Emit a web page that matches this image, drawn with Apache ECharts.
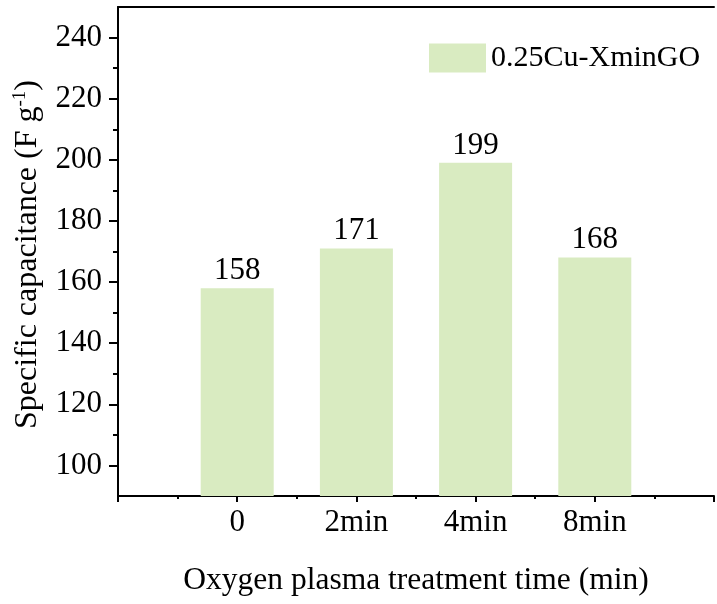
<!DOCTYPE html>
<html>
<head>
<meta charset="utf-8">
<script src="https://cdn.jsdelivr.net/npm/echarts@6/dist/echarts.min.js"></script>
<style>
  html, body { margin: 0; padding: 0; background: #fff; }
  #main { width: 717px; height: 604px; }
</style>
</head>
<body>
<div id="main"></div>
<script>
// x positions 1..4 hold the categories, 0 and 5 are the empty ends
var categories = ['0', '2min', '4min', '8min'];
var capacitance = [158, 171, 199, 168];
var yLabelTicks = [100, 120, 140, 160, 180, 200, 220, 240];
var yMinorTicks = [110, 130, 150, 170, 190, 210, 230];

var FONT = "'Liberation Serif', 'Times New Roman', serif";
var BAR_COLOR = '#d9ebc1';

var init_chart = function() {
    var myChart = echarts.init(document.getElementById('main'));

    var barData = capacitance.map(function(v, i) { return [i + 1, v]; });

    var option = {
        animation: false,
        backgroundColor: '#fff',
        textStyle: { fontFamily: FONT, color: '#000' },
        grid: { left: 118, top: 7, width: 608, bottom: 108 },
        legend: {
            left: 429,
            top: 43,
            padding: 0,
            icon: 'rect',
            itemWidth: 57,
            itemHeight: 29,
            textStyle: { fontFamily: FONT, fontSize: 30, color: '#000' },
            data: ['0.25Cu-XminGO']
        },
        xAxis: [{
            type: 'value',
            min: 0,
            max: 5,
            interval: 1,
            position: 'bottom',
            splitLine: { show: false },
            axisLine: { lineStyle: { color: '#000', width: 2 } },
            axisTick: { show: true, length: 6, lineStyle: { color: '#000', width: 2 } },
            minorTick: { show: true, splitNumber: 2, length: 3, lineStyle: { color: '#000', width: 2 } },
            axisLabel: {
                fontFamily: FONT, fontSize: 31, color: '#000', margin: 11,
                formatter: function(v) {
                    return (v >= 1 && v <= categories.length && v % 1 === 0) ? categories[v - 1] : '';
                }
            },
            name: 'Oxygen plasma treatment time (min)',
            nameLocation: 'middle',
            nameGap: 69,
            nameTextStyle: { fontFamily: FONT, fontSize: 31.5, color: '#000' }
        }, {
            type: 'value',
            min: 0,
            max: 5,
            position: 'top',
            splitLine: { show: false },
            axisLine: { show: true, lineStyle: { color: '#000', width: 2 } },
            axisTick: { show: false },
            axisLabel: { show: false }
        }],
        yAxis: [{
            type: 'value',
            min: 90,
            max: 250,
            position: 'left',
            splitLine: { show: false },
            axisLine: { show: true, lineStyle: { color: '#000', width: 2 } },
            axisTick: { show: true, length: 9, customValues: yLabelTicks, lineStyle: { color: '#000', width: 2 } },
            axisLabel: { fontFamily: FONT, fontSize: 31, color: '#000', margin: 16, customValues: yLabelTicks },
            name: '{n|Specific capacitance (F g}{s|-1}{n|)}',
            nameLocation: 'middle',
            nameRotate: 90,
            nameGap: 73,
            nameTextStyle: {
                padding: [0, 6, 0, 0],
                rich: {
                    n: { fontFamily: FONT, fontSize: 32, color: '#000' },
                    s: { fontFamily: FONT, fontSize: 19, color: '#000', verticalAlign: 'top', padding: [0, 0, 15, 0] }
                }
            }
        }, {
            type: 'value',
            min: 90,
            max: 250,
            position: 'left',
            splitLine: { show: false },
            axisLine: { show: false },
            axisTick: { show: true, length: 5, customValues: yMinorTicks, lineStyle: { color: '#000', width: 2 } },
            axisLabel: { show: false }
        }],
        series: [{
            name: '0.25Cu-XminGO',
            type: 'bar',
            xAxisIndex: 0,
            yAxisIndex: 0,
            barWidth: 73,
            data: barData,
            itemStyle: { color: BAR_COLOR },
            label: {
                show: true,
                position: 'top',
                distance: 2,
                fontFamily: FONT,
                fontSize: 31,
                color: '#000',
                formatter: function(p) { return p.value[1]; }
            }
        }]
    };

    myChart.setOption(option);
};

init_chart();
</script>
</body>
</html>
